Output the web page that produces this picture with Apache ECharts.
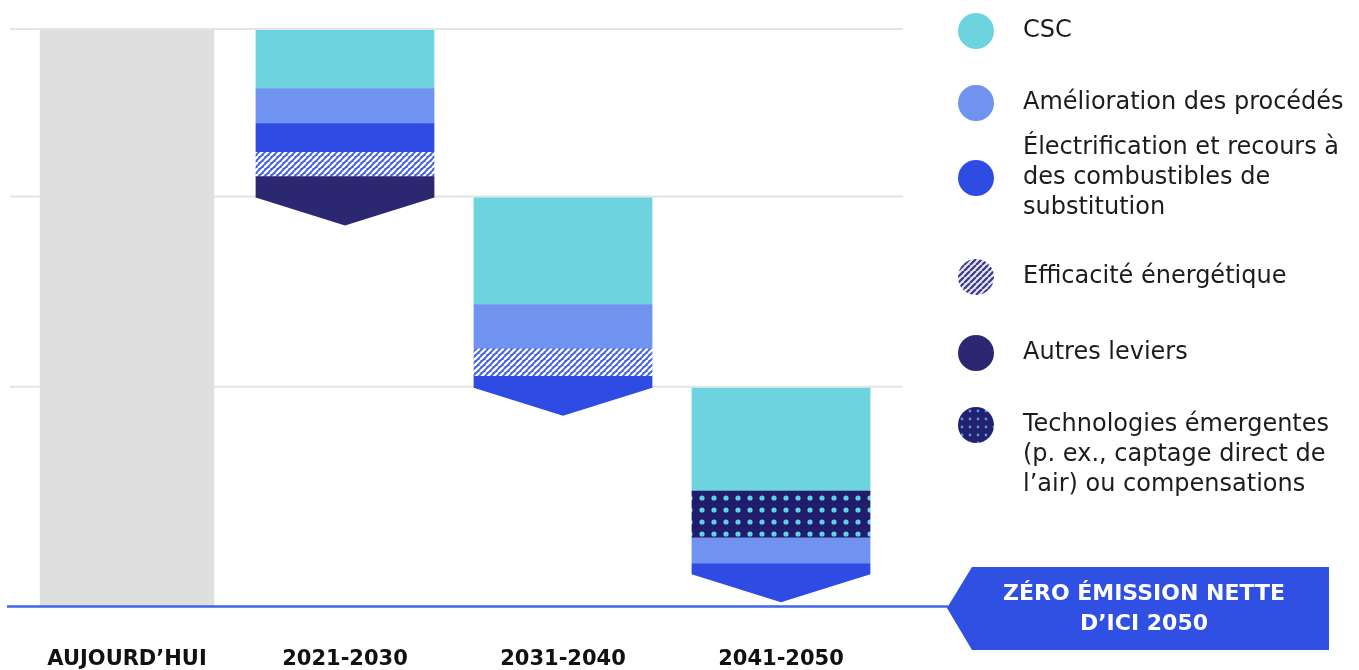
<!DOCTYPE html>
<html>
<head>
<meta charset="utf-8">
<script src="https://cdn.jsdelivr.net/npm/echarts@6/dist/echarts.min.js"></script>
<style>
  html, body { margin: 0; padding: 0; background: #ffffff; }
  #chart { width: 1359px; height: 670px; }
</style>
</head>
<body>
<div id="chart"></div>
<script>
// ---------------- DATA ----------------
const categories = ['AUJOURD’HUI', '2021-2030', '2031-2040', '2041-2050'];
const todayEmissions = [100, '-', '-', '-'];

// contribution of each lever per period (same index as categories)
const csc            = [null, 10.1, 18.5, 17.9];
const amelioration   = [null, 6.1, 7.7, 4.6];
const electrification= [null, 5.0, 2.1, 1.9];
const efficacite     = [null, 4.2, 4.7, null];
const autresLeviers  = [null, 3.7, null, null];
const technologies   = [null, null, null, 8.0];

// order of the layers in each bar, from top to bottom
const stackOrder = [
  [],
  ['csc', 'amel', 'elec', 'eff', 'autres'],
  ['csc', 'amel', 'eff', 'elec'],
  ['csc', 'tech', 'amel', 'elec']
];

const seriesNames = {
  csc: 'CSC',
  amel: 'Amélioration des procédés',
  elec: 'Électrification et recours à des combustibles de substitution',
  eff: 'Efficacité énergétique',
  autres: 'Autres leviers',
  tech: 'Technologies émergentes (p. ex., captage direct de l’air) ou compensations'
};
const legendLines = {
  csc: 'CSC',
  amel: 'Amélioration des procédés',
  elec: 'Électrification et recours à\ndes combustibles de\nsubstitution',
  eff: 'Efficacité énergétique',
  autres: 'Autres leviers',
  tech: '\n\nTechnologies émergentes\n(p. ex., captage direct de\nl’air) ou compensations'
};
const valuesByKey = { csc: csc, amel: amelioration, elec: electrification, eff: efficacite, autres: autresLeviers, tech: technologies };
const legendOrder = ['csc', 'amel', 'elec', 'eff', 'autres', 'tech'];

// ---------------- PATTERNS ----------------
function hatch(bg, stripe, size, lw) {
  const c = document.createElement('canvas'); c.width = c.height = size;
  const g = c.getContext('2d');
  g.fillStyle = bg; g.fillRect(0, 0, size, size);
  g.strokeStyle = stripe; g.lineWidth = lw; g.beginPath();
  [-size, 0, size].forEach(o => { g.moveTo(o, size); g.lineTo(o + size, 0); });
  g.stroke();
  return { image: c, repeat: 'repeat' };
}
function dots(bg, dot, size, r) {
  const c = document.createElement('canvas'); c.width = c.height = size;
  const g = c.getContext('2d');
  g.fillStyle = bg; g.fillRect(0, 0, size, size);
  g.fillStyle = dot; g.beginPath(); g.arc(size / 2, size / 2, r, 0, Math.PI * 2); g.fill();
  return { image: c, repeat: 'repeat' };
}

const fills = {
  csc: '#6dd4df',
  amel: '#6f93ee',
  elec: '#2e4ce4',
  eff: hatch('#3d5de6', '#ffffff', 6, 2.4),
  autres: '#2c2771',
  tech: dots('#211c6c', '#5fd2e6', 12, 2.6)
};
const legendFills = {
  csc: '#6dd4df',
  amel: '#6f93ee',
  elec: '#2e4ce4',
  eff: hatch('#e6e5f3', '#3b3789', 6, 2.2),
  autres: '#2c2771',
  tech: dots('#23206f', '#4c9be0', 8, 1.4)
};

// ---------------- BUILD SEGMENTS ----------------
const segData = {}; legendOrder.forEach(k => segData[k] = []);
const levels = [todayEmissions[0]];
let level = todayEmissions[0];
for (let i = 1; i < categories.length; i++) {
  let top = level;
  stackOrder[i].forEach((k, j) => {
    const bottom = top - valuesByKey[k][i];
    segData[k].push([i, top, bottom, j === stackOrder[i].length - 1 ? 1 : 0]);
    top = bottom;
  });
  level = top;
  if (i < categories.length - 1) levels.push(level);
}

const CHEVRON = 28;
function segmentRenderer(key) {
  return function (params, api) {
    const cat = api.value(0), top = api.value(1), bottom = api.value(2), last = api.value(3);
    const w = api.size([1, 0])[0] * 0.82;
    const p1 = api.coord([cat, top]);
    const p2 = api.coord([cat, bottom]);
    const x0 = p1[0] - w / 2, x1 = p1[0] + w / 2;
    const style = { fill: fills[key], stroke: null };
    if (last) {
      return { type: 'polygon', shape: { points: [[x0, p1[1]], [x1, p1[1]], [x1, p2[1]], [p1[0], p2[1] + CHEVRON], [x0, p2[1]]] }, style: style };
    }
    return { type: 'rect', shape: { x: x0, y: p1[1], width: w, height: p2[1] - p1[1] + 0.5 }, style: style };
  };
}

const series = [];
// reference lines (levels)
series.push({
  type: 'custom', name: 'niveaux', z: 1, silent: true,
  data: levels.map(v => [0, v]),
  renderItem: function (params, api) {
    const y = api.coord([0, api.value(1)])[1];
    const cs = params.coordSys;
    return { type: 'line', shape: { x1: cs.x - 8, y1: y - 1, x2: cs.x + cs.width + 13, y2: y - 1 }, style: { stroke: '#e4e4e4', lineWidth: 2 } };
  }
});
// today bar
series.push({
  type: 'bar', name: 'Aujourd’hui', z: 2, barWidth: '80%', silent: true,
  itemStyle: { color: '#dfdfdf' },
  data: todayEmissions
});
legendOrder.forEach(k => {
  series.push({
    type: 'custom', name: seriesNames[k], z: 3,
    itemStyle: { color: fills[k] },
    data: segData[k],
    renderItem: segmentRenderer(k)
  });
});
// zero baseline
series.push({
  type: 'custom', name: 'zéro', z: 5, silent: true,
  data: [[0, 0]],
  renderItem: function (params, api) {
    const y = api.coord([0, api.value(1)])[1];
    return { type: 'line', shape: { x1: 7, y1: y + 0.5, x2: 948, y2: y + 0.5 }, style: { stroke: '#3d66e4', lineWidth: 2.5 } };
  }
});

// ---------------- LEGENDS ----------------
const legendTops = { csc: 13, amel: 85, elec: 133, eff: 259, autres: 335, tech: 350 };
const legends = legendOrder.map(k => ({
  left: 958, top: legendTops[k], padding: 0, orient: 'vertical',
  itemWidth: 84, itemHeight: 36, icon: 'circle', selectedMode: false,
  data: [{ name: seriesNames[k], icon: 'circle', itemStyle: { color: legendFills[k], borderWidth: 0 } }],
  formatter: function () { return legendLines[k]; },
  textStyle: { fontSize: 24, lineHeight: 30, color: '#1c1c1c', fontFamily: 'DejaVu Sans' }
}));

const chart = echarts.init(document.getElementById('chart'), null, { renderer: 'canvas' });
chart.setOption({
  animation: false,
  backgroundColor: '#ffffff',
  textStyle: { fontFamily: 'DejaVu Sans' },
  grid: { left: 18, right: 469, top: 30, bottom: 63 },
  xAxis: {
    type: 'category', data: categories,
    axisLine: { show: false }, axisTick: { show: false },
    axisLabel: { fontSize: 21, fontWeight: 'bold', color: '#111111', margin: 43, fontFamily: 'DejaVu Sans' }
  },
  yAxis: { type: 'value', min: 0, max: 100, show: false, splitLine: { show: false } },
  legend: legends,
  series: series,
  graphic: [
    { type: 'polygon', z: 10, shape: { points: [[947, 608], [972, 567], [1329, 567], [1329, 650], [972, 650]] }, style: { fill: '#2f50e2' } },
    { type: 'text', z: 11, style: { text: 'ZÉRO ÉMISSION NETTE\nD’ICI 2050', x: 1144, y: 609, align: 'center', verticalAlign: 'middle', fill: '#ffffff', fontSize: 22, fontWeight: 'bold', fontFamily: 'DejaVu Sans', lineHeight: 30 } }
  ]
});
</script>
</body>
</html>
